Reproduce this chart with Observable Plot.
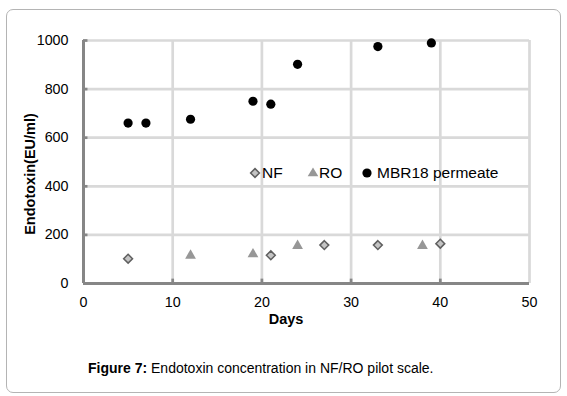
<!DOCTYPE html>
<html>
<head>
<meta charset="utf-8">
<script src="https://cdn.jsdelivr.net/npm/d3@7"></script>
<script src="https://cdn.jsdelivr.net/npm/@observablehq/plot@0.6"></script>
<style>
  body { margin: 0; background: #fff; font-family: "Liberation Sans", Arial, sans-serif; }
  #frame { position: absolute; left: 6px; top: 9px; width: 553px; height: 382px; border: 1px solid #b4b4b4; border-radius: 7px; }
  #chart { position: absolute; left: 0; top: 0; }
  .abs { position: absolute; white-space: nowrap; color: #000; }
  #ylabel { left: -70px; top: 165px; width: 200px; text-align: center; font-weight: bold; font-size: 14.5px; line-height: 18px; transform: rotate(-90deg); }
  #xlabel { left: 236px; top: 310px; width: 100px; text-align: center; font-weight: bold; font-size: 14.5px; line-height: 18px; }
  #caption { left: 88px; top: 359px; font-size: 14px; line-height: 18px; }
  .leg { position: absolute; top: 163px; height: 20px; font-size: 15.5px; line-height: 20px; white-space: nowrap; }
  .leg svg { position: absolute; top: 0; }
</style>
</head>
<body>
<div id="frame"></div>
<div id="chart"></div>
<div class="abs" id="ylabel">Endotoxin(EU/ml)</div>
<div class="abs" id="xlabel">Days</div>
<div class="abs" id="caption"><b>Figure 7:</b> Endotoxin concentration in NF/RO pilot scale.</div>
<div id="legend"></div>
<script>
// Data
const nfDays = [5, 21, 27, 33, 40];
const nfValues = [102, 116, 158, 158, 164];
const roDays = [12, 19, 24, 38];
const roValues = [115, 121, 155, 155];
const mbrDays = [5, 7, 12, 19, 21, 24, 33, 39];
const mbrValues = [660, 660, 676, 750, 738, 902, 975, 990];
const xTicks = [0, 10, 20, 30, 40, 50];
const yTicks = [0, 200, 400, 600, 800, 1000];
const seriesNames = ["NF", "RO", "MBR18 permeate"];

const nf = nfDays.map((d, i) => ({day: d, value: nfValues[i]}));
const ro = roDays.map((d, i) => ({day: d, value: roValues[i]}));
const mbr = mbrDays.map((d, i) => ({day: d, value: mbrValues[i]}));

const gridColor = "#d9d9d9";
const axisColor = "#868686";

const chart = Plot.plot({
  width: 567,
  height: 340,
  marginLeft: 83,
  marginRight: 38,
  marginTop: 40,
  marginBottom: 57,
  style: {fontFamily: '"Liberation Sans", Arial, sans-serif', fontSize: "14.3px", color: "#000", background: "transparent"},
  x: {domain: [0, 50], ticks: xTicks},
  y: {domain: [0, 1000], ticks: yTicks},
  marks: [
    Plot.ruleX(xTicks.filter(d => d > 0), {x: d => d, stroke: gridColor, strokeWidth: 2.7}),
    Plot.ruleY(yTicks.filter(d => d > 0), {y: d => d, stroke: gridColor, strokeWidth: 2.7}),
    Plot.ruleX(xTicks.filter(d => d > 0 && d < 50), {x: d => d, y1: 0, y2: 18, stroke: axisColor, strokeWidth: 2.7}),
    Plot.ruleY(yTicks.filter(d => d > 0), {y: d => d, x1: 0, x2: 0.5, stroke: axisColor, strokeWidth: 2.7}),
    Plot.ruleX([0], {stroke: axisColor, strokeWidth: 3}),
    Plot.ruleY([0], {stroke: axisColor, strokeWidth: 3, x1: 0, x2: 50}),
    Plot.axisX({ticks: xTicks, tickSize: 0, tickPadding: 13, label: null, tickFormat: d => String(d)}),
    Plot.axisY({ticks: yTicks, tickSize: 0, tickPadding: 15, label: null, tickFormat: d => String(d)}),
    Plot.dot(nf, {x: "day", y: "value", symbol: "diamond2", r: 4, fill: "#c4c4c4", stroke: "#5f5f5f", strokeWidth: 1.5}),
    Plot.dot(ro, {x: "day", y: "value", symbol: "triangle", r: 4, fill: "#979797", stroke: "none"}),
    Plot.dot(mbr, {x: "day", y: "value", symbol: "circle", r: 4.6, fill: "#000", stroke: "none"})
  ]
});
document.getElementById("chart").appendChild(chart);

// Legend (inside the plot area, as in the reference)
const legendSymbols = [
  `<svg width="12" height="20" viewBox="-6 -10 12 20"><path d="M0,-4.4L4.4,0L0,4.4L-4.4,0Z" fill="#c4c4c4" stroke="#5f5f5f" stroke-width="1.5"/></svg>`,
  `<svg width="12" height="20" viewBox="-6 -10 12 20"><path d="M0,-5.6L5.3,3.2L-5.3,3.2Z" fill="#979797"/></svg>`,
  `<svg width="12" height="20" viewBox="-6 -10 12 20"><circle r="4.6" fill="#000"/></svg>`
];
const symbolCenters = [255, 313, 367];
const textLefts = [262, 319, 377];
document.getElementById("legend").innerHTML = seriesNames.map((n, i) =>
  `<div class="leg" style="left:${symbolCenters[i] - 6}px">${legendSymbols[i]}<span style="position:absolute;left:${textLefts[i] - symbolCenters[i] + 6}px">${n}</span></div>`
).join("");
</script>
</body>
</html>
